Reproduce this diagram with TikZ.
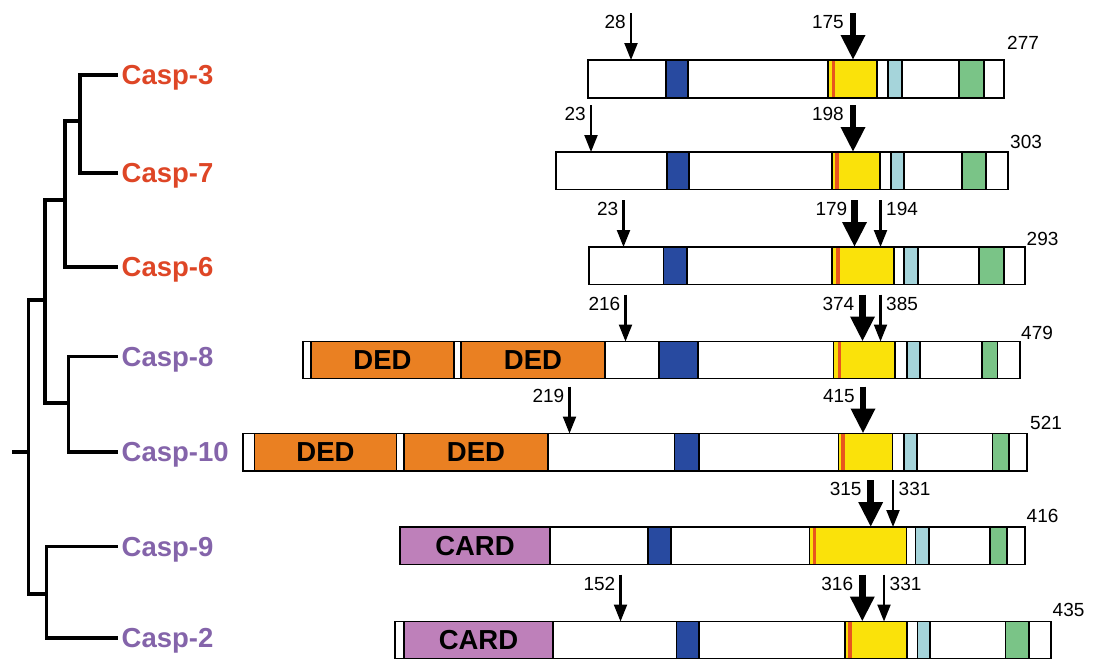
\documentclass[tikz,border=0pt]{standalone}
\usepackage{fontspec}
\setmainfont{Liberation Sans}
\usetikzlibrary{arrows.meta}
\definecolor{cred}{RGB}{222,70,38}
\definecolor{cpurp}{RGB}{132,100,170}
\definecolor{dblue}{RGB}{40,74,160}
\definecolor{yel}{RGB}{250,226,10}
\definecolor{ostripe}{RGB}{232,85,30}
\definecolor{lcyan}{RGB}{165,212,218}
\definecolor{lgreen}{RGB}{122,196,135}
\definecolor{dedor}{RGB}{234,128,34}
\definecolor{cardp}{RGB}{190,128,186}
\tikzset{
  tree/.style={line width=3.2pt, line join=miter},
  leaf/.style={anchor=west, inner sep=4pt, text depth=0pt, font=\fontsize{27.5}{30}\selectfont\bfseries},
  seg/.style={draw=black, line width=1.3pt},
  thinarr/.style={line width=2.2pt, -{Triangle[width=13pt,length=17pt]}},
  thickarr/.style={line width=6.5pt, -{Triangle[width=23pt,length=25pt]}},
  numlab/.style={inner sep=0pt, text depth=0pt, font=\fontsize{19}{21}\selectfont},
  domtxt/.style={inner sep=0pt, text depth=0pt, font=\fontsize{27.5}{30}\selectfont\bfseries}
}
% segment: colour, x1, x2
\newcommand\casseg[3]{\filldraw[seg,fill=#1] (#2,\casT) rectangle (#3,\casB);}
% yellow block with orange stripe: x1, x2, s1, s2
\newcommand\casyel[4]{\filldraw[seg,fill=yel] (#1,\casT) rectangle (#2,\casB);
  \fill[ostripe] (#3,\casT+0.65) rectangle (#4,\casB-0.65);}
% cleavage arrow, label on the left: id, x, T, style, gap, label
\newcommand\cutL[6]{\coordinate (#1t) at (#2,#3-47); \coordinate (#1b) at (#2,#3);
  \draw[#4] (#1t) -- (#1b);
  \node[numlab,anchor=east] (#1l) at (#2-#5,#3-38) {#6};}
% cleavage arrow, label on the right
\newcommand\cutR[6]{\coordinate (#1t) at (#2,#3-47); \coordinate (#1b) at (#2,#3);
  \draw[#4] (#1t) -- (#1b);
  \node[numlab,anchor=west] (#1l) at (#2+#5,#3-38) {#6};}
\begin{document}
\begin{tikzpicture}[x=1pt,y=-1pt]
\useasboundingbox (0,0) rectangle (1093,659);

% ---------- tree ----------
\node[leaf,text=cred]  (c3)  at (117.5,75)  {Casp-3};
\node[leaf,text=cred]  (c7)  at (117.5,173) {Casp-7};
\node[leaf,text=cred]  (c6)  at (117.5,267) {Casp-6};
\node[leaf,text=cpurp] (c8)  at (117.5,356.5) {Casp-8};
\node[leaf,text=cpurp] (c10) at (117.5,452) {Casp-10};
\node[leaf,text=cpurp] (c9)  at (117.5,546.5) {Casp-9};
\node[leaf,text=cpurp] (c2)  at (117.5,638) {Casp-2};
\coordinate (j37)  at (80,121);
\coordinate (j376) at (65,200);
\coordinate (j810) at (68.3,403);
\coordinate (jA)   at (45,300);
\coordinate (j92)  at (46.7,594);
\coordinate (jR)   at (28.3,452);
\coordinate (root) at (11.5,452);
\draw[tree] (c3.west) -| (j37) |- (c7.west);
\draw[tree] (j37) -| (j376) |- (c6.west);
\draw[tree] (c8.west) -| (j810) |- (c10.west);
\draw[tree] (j376) -| (jA) |- (j810);
\draw[tree] (c9.west) -| (j92) |- (c2.west);
\draw[tree] (jA) -| (jR) |- (j92);
\draw[tree] (jR) -- (root);

% ---------- Casp-3 ----------
\def\casT{60}\def\casB{98}
\fill[white] (588,\casT) rectangle (1004,\casB);
\casseg{dblue}{666}{688}
\casyel{828}{877}{831.5}{835}
\casseg{lcyan}{888}{902}
\casseg{lgreen}{959}{984}
\draw[seg] (588,\casT) rectangle (1004,\casB);
\cutL{a1}{631}{\casT}{thinarr}{5}{28}
\cutL{a2}{853}{\casT}{thickarr}{9}{175}
\node[numlab,anchor=west] (n1) at (1007,43) {277};

% ---------- Casp-7 ----------
\def\casT{152}\def\casB{189.5}
\fill[white] (556,\casT) rectangle (1008,\casB);
\casseg{dblue}{667}{689}
\casyel{832}{880}{835}{838.5}
\casseg{lcyan}{891}{904}
\casseg{lgreen}{962}{986}
\draw[seg] (556,\casT) rectangle (1008,\casB);
\cutL{b1}{591}{\casT}{thinarr}{5}{23}
\cutL{b2}{853}{\casT}{thickarr}{9}{198}
\node[numlab,anchor=west] (n2) at (1010,142) {303};

% ---------- Casp-6 ----------
\def\casT{247}\def\casB{284.5}
\fill[white] (589,\casT) rectangle (1025,\casB);
\casseg{dblue}{663.5}{687}
\casyel{832}{894}{836}{839.5}
\casseg{lcyan}{904}{918}
\casseg{lgreen}{979}{1004}
\draw[seg] (589,\casT) rectangle (1025,\casB);
\cutL{c1}{623.5}{\casT}{thinarr}{5}{23}
\cutL{c2}{854.5}{\casT}{thickarr}{7}{179}
\cutR{c3}{880.5}{\casT}{thinarr}{5.5}{194}
\node[numlab,anchor=west] (n3) at (1026.5,239) {293};

% ---------- Casp-8 ----------
\def\casT{341.5}\def\casB{378.5}
\fill[white] (303,\casT) rectangle (1020,\casB);
\casseg{dedor}{311}{454}
\casseg{dedor}{461}{605}
\node[domtxt] (d8a) at (382.5,360) {DED};
\node[domtxt] (d8b) at (533,360) {DED};
\casseg{dblue}{659}{698}
\casyel{833.5}{895}{837.5}{841}
\casseg{lcyan}{907}{920}
\casseg{lgreen}{982}{997.5}
\draw[seg] (303,\casT) rectangle (1020,\casB);
\cutL{d1}{625.5}{\casT}{thinarr}{5}{216}
\cutL{d2}{862.5}{\casT}{thickarr}{8}{374}
\cutR{d3}{880.5}{\casT}{thinarr}{5.5}{385}
\node[numlab,anchor=west] (n4) at (1021,333) {479};

% ---------- Casp-10 ----------
\def\casT{433.5}\def\casB{471}
\fill[white] (243,\casT) rectangle (1027,\casB);
\casseg{dedor}{254.5}{396.5}
\casseg{dedor}{404}{548}
\node[domtxt] (d10a) at (325.5,452) {DED};
\node[domtxt] (d10b) at (476,452) {DED};
\casseg{dblue}{674.5}{699}
\casyel{838.5}{892.5}{841}{844.5}
\casseg{lcyan}{904}{917}
\casseg{lgreen}{992.5}{1009}
\draw[seg] (243,\casT) rectangle (1027,\casB);
\cutL{e1}{569.5}{\casT}{thinarr}{5}{219}
\cutL{e2}{863}{\casT}{thickarr}{8}{415}
\node[numlab,anchor=west] (n5) at (1030,423) {521};

% ---------- Casp-9 ----------
\def\casT{527}\def\casB{564.5}
\fill[white] (400,\casT) rectangle (1025,\casB);
\casseg{cardp}{400}{550}
\node[domtxt] (k9) at (475,546) {CARD};
\casseg{dblue}{648}{671}
\casyel{809.5}{906.5}{812.5}{816}
\casseg{lcyan}{915.5}{929}
\casseg{lgreen}{990}{1007}
\draw[seg] (400,\casT) rectangle (1025,\casB);
\cutL{f1}{870.7}{\casT}{thickarr}{9}{315}
\cutR{f2}{893}{\casT}{thinarr}{5.5}{331}
\node[numlab,anchor=west] (n6) at (1026.5,516) {416};

% ---------- Casp-2 ----------
\def\casT{621.5}\def\casB{658.3}
\fill[white] (395,\casT) rectangle (1051,\casB);
\casseg{cardp}{404}{553}
\node[domtxt] (k2) at (478.5,640) {CARD};
\casseg{dblue}{676.5}{699}
\casyel{845}{907}{848}{851.5}
\casseg{lcyan}{917.5}{930}
\casseg{lgreen}{1005.5}{1029}
\draw[seg] (395,\casT) rectangle (1051,\casB);
\cutL{g1}{620.5}{\casT}{thinarr}{5}{152}
\cutL{g2}{862.3}{\casT}{thickarr}{9}{316}
\cutR{g3}{884}{\casT}{thinarr}{5.5}{331}
\node[numlab,anchor=west] (n7) at (1052.5,610) {435};
\end{tikzpicture}
\end{document}
